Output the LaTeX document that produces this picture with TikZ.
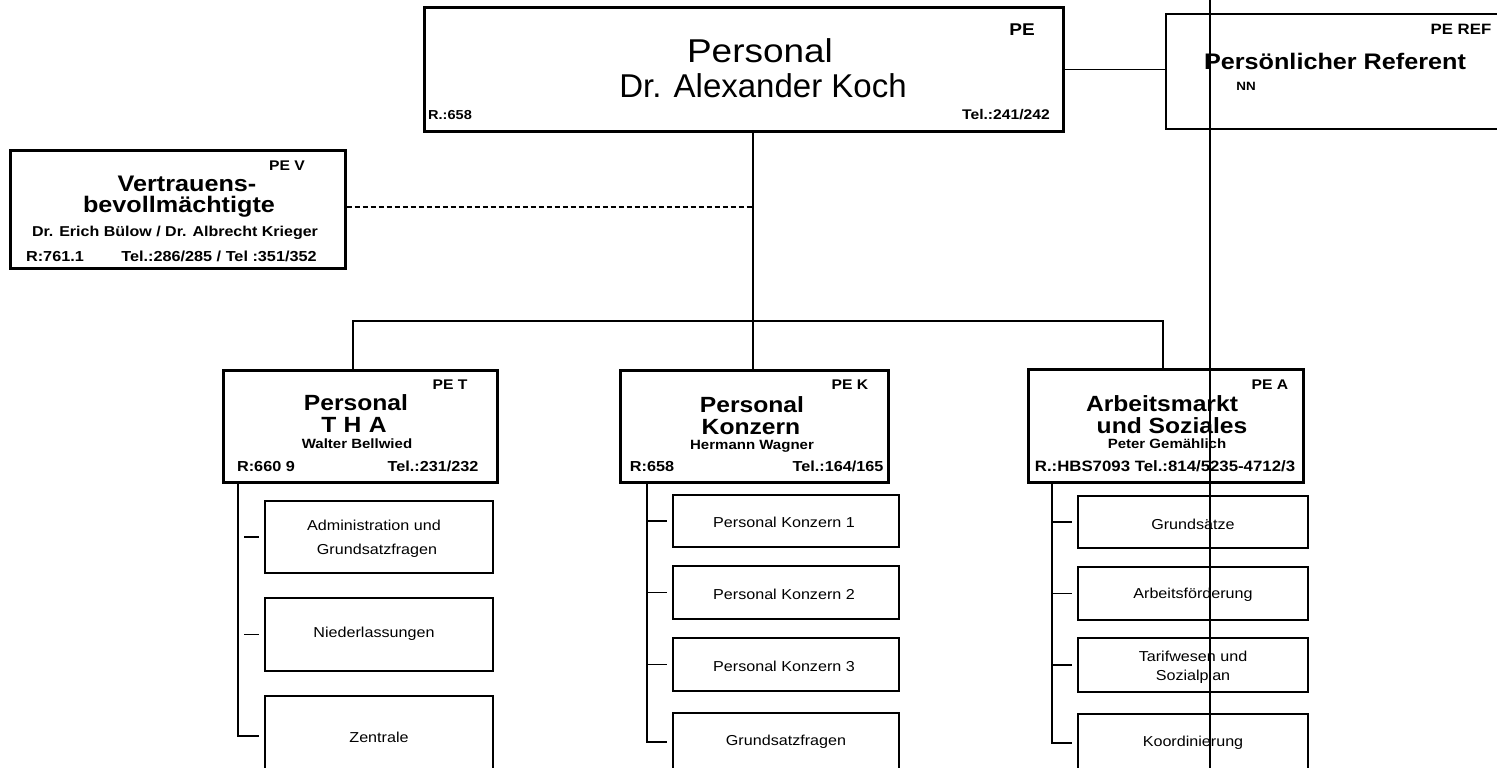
\documentclass[tikz,border=0pt]{standalone}
\usepackage{fontspec}
\setmainfont{Liberation Sans}
\newfontfamily\widefont[FakeStretch=1.12]{Liberation Sans}
\begin{document}
\begin{tikzpicture}[x=1pt,y=-1pt,
  box/.style={draw, line width=3pt, inner sep=0pt, rectangle},
  subbox/.style={draw, line width=1.3pt, inner sep=0pt, rectangle},
  conn/.style={line width=1.4pt},
  txt/.style={inner sep=0pt, anchor=center, align=center},
  txtb/.style={inner sep=0pt, anchor=base},
  fs/.style={font=\fontsize{#1}{#1}\selectfont},
  wr/.style={font=\widefont\fontsize{#1}{#1}\selectfont},
  wb/.style={font=\widefont\fontsize{#1}{#1}\selectfont\bfseries}
]
\useasboundingbox (0,0) rectangle (1497,768);
\clip (0,0) rectangle (1497,768);

% ---------- top level ----------
\node[box, minimum width=639pt, minimum height=123pt] (pe) at (743.5,69.5) {};
\node[txtb, wb=17] (pe-code) at (1022,36) {PE};
\node[txt, wr=33] (pe-t1) at (760,51) {Personal};
\node[txt, fs=33] (pe-t2) at (763,86) {Dr. Alexander Koch};
\node[txtb, wb=13] (pe-r) at (450,119) {R.:658};
\node[txtb, wb=14] (pe-tel) at (1006,119) {Tel.:241/242};

\node[subbox, minimum width=344pt, minimum height=115pt] (ref) at (1338,71.5) {};
\node[txtb, wb=15] (ref-code) at (1461,35) {PE REF};
\node[txtb, wb=22.5] (ref-t1) at (1335,70) {Persönlicher Referent};
\node[txtb, wb=12] (ref-t2) at (1246,90) {NN};

\node[box, minimum width=335pt, minimum height=118pt] (pev) at (177.5,209) {};
\node[txtb, wb=14] (pev-code) at (287,170) {PE V};
\node[txtb, wb=22.5] (pev-t1) at (187,191) {Vertrauens-};
\node[txt, wb=22.5] (pev-t2) at (179,207) {bevollmächtigte};
\node[txt, wb=14.3] (pev-t3) at (175,233) {Dr. Erich Bülow / Dr. Albrecht Krieger};
\node[txtb, wb=14.5] (pev-r) at (55,261) {R:761.1};
\node[txtb, wb=14.5] (pev-tel) at (219,261) {Tel.:286/285 / Tel :351/352};

% ---------- second level ----------
\node[box, minimum width=274pt, minimum height=112pt] (pet) at (360,426) {};
\node[txtb, wb=14] (pet-code) at (450,389) {PE T};
\node[txtb, wb=22] (pet-t1) at (356,410) {Personal};
\node[txtb, wb=22] (pet-t2) at (354,432) {T\,\,H\,\,A};
\node[txtb, wb=13.4] (pet-t3) at (357,448) {Walter Bellwied};
\node[txtb, wb=14.5] (pet-r) at (266,471) {R:660 9};
\node[txtb, wb=14.5] (pet-tel) at (433,471) {Tel.:231/232};

\node[box, minimum width=268pt, minimum height=112pt] (pek) at (754,426) {};
\node[txtb, wb=14] (pek-code) at (850,389) {PE K};
\node[txtb, wb=22] (pek-t1) at (752,412) {Personal};
\node[txtb, wb=22] (pek-t2) at (751,434) {Konzern};
\node[txtb, wb=13.4] (pek-t3) at (752,449) {Hermann Wagner};
\node[txtb, wb=14.5] (pek-r) at (652,471) {R:658};
\node[txtb, wb=14.5] (pek-tel) at (838,471) {Tel.:164/165};

\node[box, minimum width=275pt, minimum height=113pt] (pea) at (1165.5,425.5) {};
\node[txtb, wb=14] (pea-code) at (1270,389) {PE A};
\node[txtb, wb=22] (pea-t1) at (1162,411) {Arbeitsmarkt};
\node[txtb, wb=22] (pea-t2) at (1172,433) {und Soziales};
\node[txtb, wb=13.4] (pea-t3) at (1167,448) {Peter Gemählich};
\node[txtb, wb=15] (pea-r) at (1165,471) {R.:HBS7093 Tel.:814/5235-4712/3};

% ---------- third level: Personal THA ----------
\node[subbox, minimum width=228pt, minimum height=72pt] (t1) at (379,537) {};
\node[txt, wr=14.4] (t1-a) at (374,525) {Administration und};
\node[txt, wr=14.4] (t1-b) at (377,551) {Grundsatzfragen};
\node[subbox, minimum width=228pt, minimum height=73pt] (t2) at (379,634.5) {};
\node[txt, wr=14.4] (t2-a) at (374,634) {Niederlassungen};
\node[subbox, minimum width=228pt, minimum height=100pt] (t3) at (379,746) {};
\node[txt, wr=14.4] (t3-a) at (379,737) {Zentrale};

% ---------- third level: Personal Konzern ----------
\node[subbox, minimum width=226pt, minimum height=52pt] (k1) at (786,521) {};
\node[txt, wr=14.4] (k1-a) at (784,522) {Personal Konzern 1};
\node[subbox, minimum width=226pt, minimum height=53pt] (k2) at (786,592.5) {};
\node[txt, wr=14.4] (k2-a) at (784,594) {Personal Konzern 2};
\node[subbox, minimum width=226pt, minimum height=53pt] (k3) at (786,664.5) {};
\node[txt, wr=14.4] (k3-a) at (784,666) {Personal Konzern 3};
\node[subbox, minimum width=226pt, minimum height=80pt] (k4) at (786,753) {};
\node[txt, wr=14.4] (k4-a) at (786,742) {Grundsatzfragen};

% ---------- third level: Arbeitsmarkt und Soziales ----------
\node[subbox, minimum width=230pt, minimum height=52pt] (a1) at (1193,522) {};
\node[txt, wr=14.4] (a1-a) at (1193,524) {Grundsätze};
\node[subbox, minimum width=230pt, minimum height=53pt] (a2) at (1193,593.5) {};
\node[txt, wr=14.4] (a2-a) at (1193,595) {Arbeitsförderung};
\node[subbox, minimum width=230pt, minimum height=54pt] (a3) at (1193,665) {};
\node[txt, wr=14.4] (a3-a) at (1193,656) {Tarifwesen und};
\node[txt, wr=14.4] (a3-b) at (1193,677) {Sozialplan};
\node[subbox, minimum width=230pt, minimum height=80pt] (a4) at (1193,754) {};
\node[txt, wr=14.4] (a4-a) at (1193,743) {Koordinierung};

% ---------- connectors ----------
\coordinate (hub) at (753,321);
\coordinate (hubL) at (353,321);
\coordinate (hubR) at (1163,321);
\draw[conn] (pe.east) -- (pe.east -| ref.west);
\draw[conn] (pe.south -| hub) -- (hub);
\draw[conn, dashed, dash pattern=on 5pt off 3pt] (pev.east |- 0,207) -- (hub |- 0,207);
\draw[conn] (hubL |- pet.north) -- (hubL) -- (hubR) -- (hubR |- pea.north);
\draw[conn] (hub) -- (hub |- pek.north);

% spines with branches
\coordinate (sT) at (238,0);
\coordinate (sK) at (647,0);
\coordinate (sA) at (1052,0);
\draw[conn] (sT |- pet.south) -- (sT |- 0,736) -- ([xshift=-5pt]t3.west |- 0,736);
\draw[conn] ([xshift=6pt]sT |- t1.west) -- ([xshift=-5pt]t1.west);
\draw[conn] ([xshift=6pt]sT |- t2.west) -- ([xshift=-5pt]t2.west);

\draw[conn] (sK |- pek.south) -- (sK |- 0,742) -- ([xshift=-5pt]k4.west |- 0,742);
\draw[conn] (sK |- k1.west) -- ([xshift=-5pt]k1.west);
\draw[conn] (sK |- k2.west) -- ([xshift=-5pt]k2.west);
\draw[conn] (sK |- k3.west) -- ([xshift=-5pt]k3.west);

\draw[conn] (sA |- pea.south) -- (sA |- 0,743) -- ([xshift=-5pt]a4.west |- 0,743);
\draw[conn] (sA |- a1.west) -- ([xshift=-5pt]a1.west);
\draw[conn] (sA |- a2.west) -- ([xshift=-5pt]a2.west);
\draw[conn] (sA |- a3.west) -- ([xshift=-5pt]a3.west);

% long vertical rule crossing the right part of the chart
\draw[line width=2.5pt] (1210,0) -- (1210,768);
\end{tikzpicture}
\end{document}
